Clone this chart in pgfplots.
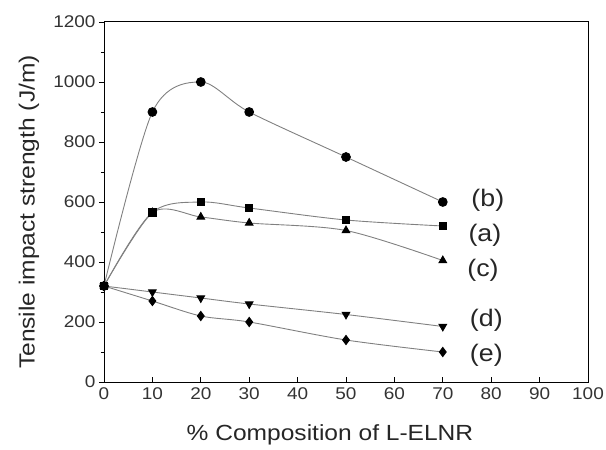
\documentclass[border=0pt]{standalone}
\usepackage{fontspec}
\setmainfont{Liberation Sans}[FakeStretch=1.12]
\usepackage{pgfplots}
\pgfplotsset{compat=1.18}
\usetikzlibrary{calc}
\begin{document}
\begin{tikzpicture}
\begin{axis}[
  name=ax,
  scale only axis, width=484bp, height=360bp,
  xmin=0, xmax=100, ymin=0, ymax=1200,
  xtick={0,10,...,100}, ytick={0,200,...,1200},
  minor y tick num=1,
  xtick pos=bottom, ytick pos=left,
  xtick align=inside, ytick align=outside,
  major tick length=5bp, minor tick length=3bp,
  tick style={black, line width=0.8pt},
  axis line style={line width=1pt},
  /pgf/number format/assume math mode=true,
  /pgf/number format/1000 sep={},
  ticklabel style={font=\fontsize{17}{19}\selectfont, text=black!80},
  xticklabel style={yshift=-2bp},
  xlabel={\% Composition of L-ELNR},
  ylabel={Tensile impact strength (J/m)},
  label style={font=\fontsize{22}{24}\selectfont, text=black!85},
  xlabel style={at={(axis description cs:0.5,0)}, anchor=center, yshift=-53bp, xshift=-16bp},
  ylabel style={at={(axis description cs:0,0.5)}, anchor=center, xshift=-10bp, yshift=75bp},
  every axis plot/.append style={smooth, tension=0.5, draw=black!50, line width=0.9pt},
  clip=false,
]
\addplot[mark=square*, mark size=3.7pt, mark options={fill=black, draw=black}] coordinates {(0,320) (10,565) (20,600) (30,580) (50,540) (70,520)};
\addplot[mark=*, mark size=4.4pt, mark options={fill=black, draw=black}] coordinates {(0,320) (10,900) (20,1000) (30,900) (50,750) (70,600)};
\addplot[mark=triangle*, mark size=4.4pt, mark options={fill=black, draw=black}] coordinates {(0,320) (10,565) (20,550) (30,530) (50,505) (70,405)};
\addplot[mark=triangle*, mark size=4.4pt, mark options={fill=black, draw=black, rotate=180}] coordinates {(0,320) (10,300) (20,280) (30,260) (50,225) (70,185)};
\addplot[mark=diamond*, mark size=4.6pt, mark options={fill=black, draw=black}] coordinates {(0,320) (10,270) (20,220) (30,200) (50,140) (70,100)};
\node[font=\fontsize{24}{27}\selectfont, text=black!85] at (axis cs:79.3,605) {(b)};
\node[font=\fontsize{24}{27}\selectfont, text=black!85] at (axis cs:78.7,490) {(a)};
\node[font=\fontsize{24}{27}\selectfont, text=black!85] at (axis cs:78.3,372) {(c)};
\node[font=\fontsize{24}{27}\selectfont, text=black!85] at (axis cs:79,207) {(d)};
\node[font=\fontsize{24}{27}\selectfont, text=black!85] at (axis cs:79,90) {(e)};
\end{axis}
\pgfresetboundingbox
\path ($(ax.south west)+(-104bp,-68bp)$) rectangle ($(ax.north east)+(18bp,22bp)$);
\end{tikzpicture}
\end{document}
